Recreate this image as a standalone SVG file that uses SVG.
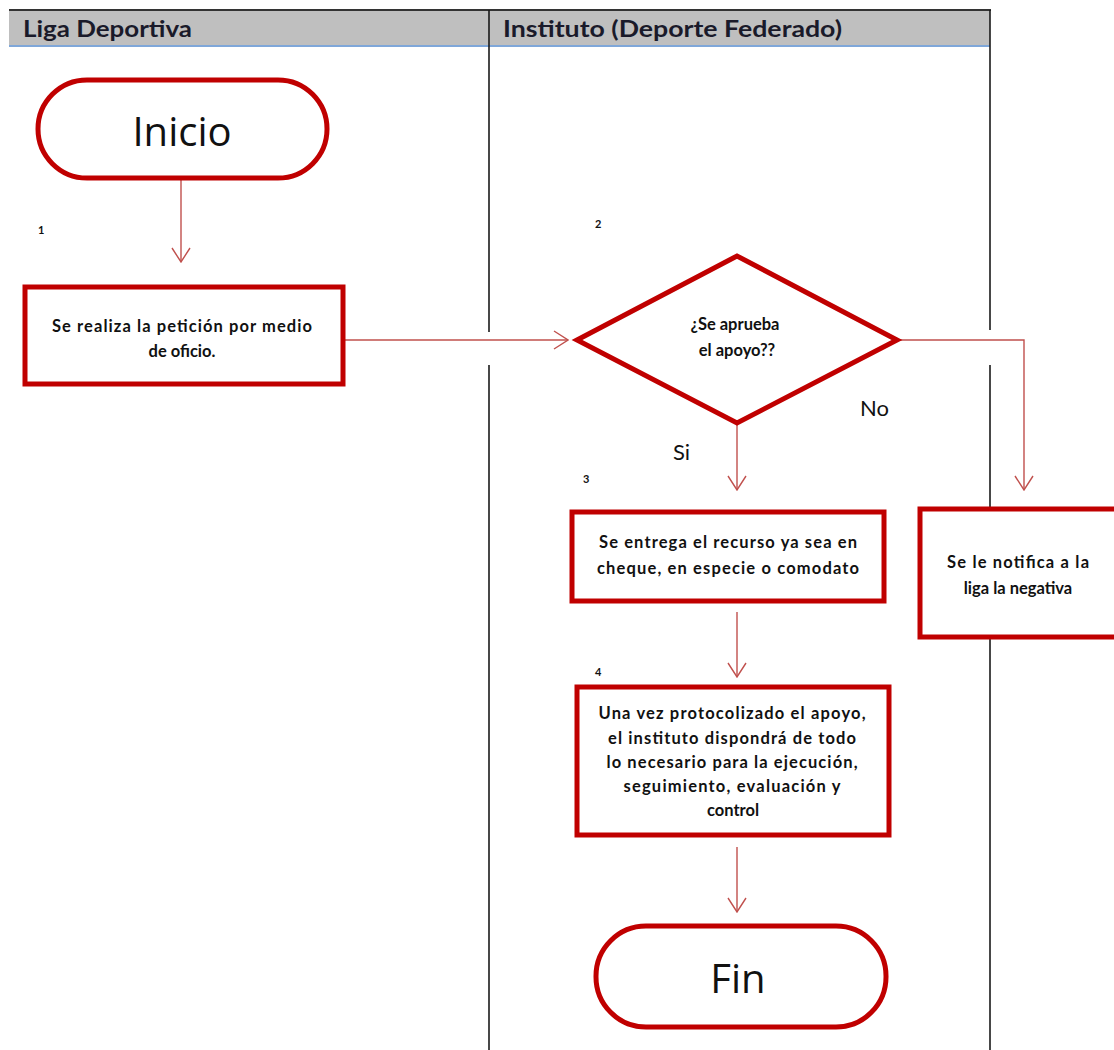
<svg xmlns="http://www.w3.org/2000/svg" width="1114" height="1050" viewBox="0 0 1114 1050">
<style>
.shape{fill:#fff;stroke:#C00000;stroke-width:5}
.conn{fill:none;stroke:#C0504D;stroke-width:1.4}
.lane{stroke:#1a1a1a;stroke-width:1.6}
.hdr{font-family:Lato,"Liberation Sans",sans-serif;font-weight:bold;font-size:23px;fill:#1a1a2a}
.t{font-family:Lato,"Liberation Sans",sans-serif;font-weight:bold;font-size:16.5px;fill:#111;text-anchor:middle}
.big{font-family:"Open Sans","Liberation Sans",sans-serif;font-size:40px;fill:#111;text-anchor:middle}
.num{font-family:Lato,"Liberation Sans",sans-serif;font-weight:bold;font-size:11px;fill:#111}
.lbl{font-family:Lato,"Liberation Sans",sans-serif;font-size:22px;fill:#111}
</style>
<defs>
<marker id="arr" viewBox="0 0 16 20" refX="15" refY="10" markerWidth="16" markerHeight="20" markerUnits="userSpaceOnUse" orient="auto">
<path d="M1,1 L15,10 L1,19" fill="none" stroke="#C0504D" stroke-width="1.4"/>
</marker>
</defs>
<rect width="1114" height="1050" fill="#fff"/>
<g id="lanes">
<rect x="9" y="10" width="981" height="35" fill="#BFBFBF"/>
<line x1="9" y1="10" x2="991" y2="10" stroke="#333" stroke-width="2"/>
<line x1="9" y1="46" x2="990" y2="46" stroke="#7FA7D9" stroke-width="2"/>
<line class="lane" x1="489" y1="10" x2="489" y2="332"/>
<line class="lane" x1="489" y1="365" x2="489" y2="1050"/>
<line class="lane" x1="990" y1="10" x2="990" y2="330"/>
<line class="lane" x1="990" y1="365" x2="990" y2="1050"/>
<text class="hdr" x="23" y="37" textLength="169" lengthAdjust="spacingAndGlyphs">Liga Deportiva</text>
<text class="hdr" x="503" y="37" textLength="339" lengthAdjust="spacingAndGlyphs">Instituto (Deporte Federado)</text>
</g>
<g id="connectors">
<line class="conn" x1="181" y1="180" x2="181" y2="262" marker-end="url(#arr)"/>
<line class="conn" x1="343" y1="340" x2="568" y2="340" marker-end="url(#arr)"/>
<line class="conn" x1="737" y1="423" x2="737" y2="490" marker-end="url(#arr)"/>
<polyline class="conn" points="897,340 1024,340 1024,490" marker-end="url(#arr)"/>
<line class="conn" x1="737" y1="612" x2="737" y2="677" marker-end="url(#arr)"/>
<line class="conn" x1="737" y1="847" x2="737" y2="912" marker-end="url(#arr)"/>
<text class="lbl" x="860" y="416">No</text>
<text class="lbl" x="673" y="460">Si</text>
</g>
<g id="inicio">
<rect class="shape" x="38" y="80" width="289" height="98" rx="49"/>
<text class="big" x="182" y="146">Inicio</text>
</g>
<g id="paso1">
<text class="num" x="38" y="234">1</text>
<rect class="shape" x="25" y="287" width="318" height="97"/>
<text class="t" x="182" y="332" textLength="260" lengthAdjust="spacing">Se realiza la petición por medio</text>
<text class="t" x="182" y="357">de oficio.</text>
</g>
<g id="decision">
<text class="num" x="595" y="228">2</text>
<polygon class="shape" points="577,340 737,256 897,340 737,423"/>
<text class="t" x="735" y="330">¿Se aprueba</text>
<text class="t" x="737" y="356">el apoyo??</text>
</g>
<g id="paso3">
<text class="num" x="583" y="483">3</text>
<rect class="shape" x="572" y="512" width="312" height="89"/>
<text class="t" x="728" y="548" textLength="258" lengthAdjust="spacing">Se entrega el recurso ya sea en</text>
<text class="t" x="728" y="574" textLength="262" lengthAdjust="spacing">cheque,  en especie  o comodato</text>
</g>
<g id="negativa">
<rect class="shape" x="920" y="509" width="200" height="128"/>
<text class="t" x="1018" y="568" textLength="142" lengthAdjust="spacing">Se le notifica  a la</text>
<text class="t" x="1018" y="594">liga la negativa</text>
</g>
<g id="paso4">
<text class="num" x="595" y="676">4</text>
<rect class="shape" x="577" y="687" width="312" height="148"/>
<text class="t" x="732" y="719" textLength="267" lengthAdjust="spacing">Una vez protocolizado  el apoyo,</text>
<text class="t" x="732" y="744" textLength="248" lengthAdjust="spacing">el instituto dispondrá  de todo</text>
<text class="t" x="732" y="768" textLength="251" lengthAdjust="spacing">lo necesario  para la ejecución,</text>
<text class="t" x="732" y="792" textLength="217" lengthAdjust="spacing">seguimiento,  evaluación  y</text>
<text class="t" x="733" y="816">control</text>
</g>
<g id="fin">
<rect class="shape" x="596" y="926" width="290" height="101" rx="50"/>
<text class="big" x="738" y="993">Fin</text>
</g>
</svg>
